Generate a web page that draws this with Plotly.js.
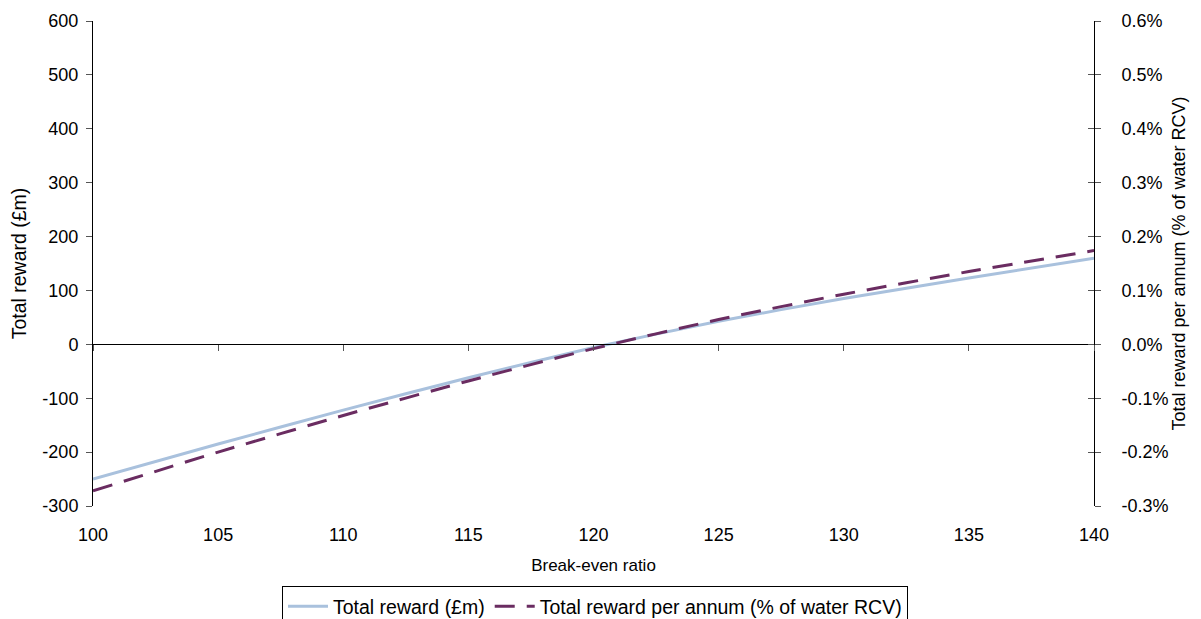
<!DOCTYPE html>
<html>
<head>
<meta charset="utf-8">
<script src="https://cdn.plot.ly/plotly-3.0.1.min.js"></script>
<style>
  html, body { margin: 0; padding: 0; background: #fff; }
  #chart { width: 1201px; height: 619px; }
</style>
</head>
<body>
<div id="chart"></div>
<script>
// Break-even ratio on the x axis
const breakEvenRatio = [100, 105, 110, 115, 120, 125, 130, 135, 140];
// Total reward in £m (left axis)
const totalRewardGBPm = [-250, -185, -122, -62, -6, 43, 85, 123, 160];
// Total reward per annum as % of water RCV (right axis)
const rewardPctRCV = [-0.272, -0.200, -0.132, -0.068, -0.008, 0.046, 0.093, 0.135, 0.174];

const leftTicks = [-300, -200, -100, 0, 100, 200, 300, 400, 500, 600];
const rightTicks = [-0.3, -0.2, -0.1, 0.0, 0.1, 0.2, 0.3, 0.4, 0.5, 0.6];
const xTicks = [100, 105, 110, 115, 120, 125, 130, 135, 140];

// tick labels with a plain hyphen for negatives
const leftTickText = leftTicks.map(v => String(v));
const rightTickText = rightTicks.map(v => v.toFixed(1) + '%');
const xTickText = xTicks.map(v => String(v));

const FONT = 'Liberation Sans, Arial, sans-serif';

const traces = [
  {
    x: breakEvenRatio, y: totalRewardGBPm,
    name: 'Total reward (£m)',
    type: 'scatter', mode: 'lines',
    line: { color: '#a9c1dd', width: 3, shape: 'spline', smoothing: 0.6 },
    xaxis: 'x', yaxis: 'y'
  },
  {
    x: breakEvenRatio, y: rewardPctRCV,
    name: 'Total reward per annum (% of water RCV)',
    type: 'scatter', mode: 'lines',
    line: { color: '#6a2c61', width: 3, dash: '20px,12px', shape: 'spline', smoothing: 0.6 },
    xaxis: 'x', yaxis: 'y2'
  },
  // empty trace so the zero-line axis and inner right ticks get a subplot
  {
    x: [], y: [],
    type: 'scatter', mode: 'lines',
    showlegend: false, hoverinfo: 'skip',
    xaxis: 'x2', yaxis: 'y3'
  }
];

const layout = {
  width: 1201, height: 619,
  margin: { l: 93, r: 107, t: 21, b: 113, pad: 0, autoexpand: false },
  paper_bgcolor: '#fff', plot_bgcolor: '#fff',
  font: { family: FONT, size: 18, color: '#000' },
  showlegend: true,
  legend: {
    orientation: 'h',
    xref: 'container', yref: 'container',
    x: 595 / 1201, xanchor: 'center',
    y: 1 - 586 / 619, yanchor: 'top',
    bordercolor: '#000', borderwidth: 1,
    font: { family: FONT, size: 19.5, color: '#000' },
    itemwidth: 40,
    tracegroupgap: 0
  },
  // bottom axis: labels only
  xaxis: {
    range: [100, 140],
    tickvals: xTicks, ticktext: xTickText,
    ticks: '', showline: false, showgrid: false, zeroline: false,
    ticklabelstandoff: 16,
    tickfont: { family: FONT, size: 18, color: '#000' },
    title: { text: 'Break-even ratio', font: { family: FONT, size: 17, color: '#000' }, standoff: 15 },
    automargin: false
  },
  // axis line drawn through y = 0 with downward ticks
  xaxis2: {
    overlaying: 'x',
    range: [100, 140],
    anchor: 'free', position: 1 / 3,
    tickvals: xTicks,
    ticks: 'outside', ticklen: 6, tickcolor: '#555', tickwidth: 1,
    showticklabels: false,
    showline: true, linecolor: '#000', linewidth: 1,
    showgrid: false, zeroline: false
  },
  yaxis: {
    range: [-300, 600],
    tickvals: leftTicks, ticktext: leftTickText,
    ticks: 'outside', ticklen: 6, tickcolor: '#555', tickwidth: 1,
    showline: true, linecolor: '#000', linewidth: 1,
    showgrid: false, zeroline: false,
    ticklabelstandoff: 4,
    tickfont: { family: FONT, size: 18, color: '#000' },
    title: { text: 'Total reward (£m)', font: { family: FONT, size: 19.5, color: '#000' }, standoff: 10 },
    automargin: false
  },
  yaxis2: {
    overlaying: 'y', side: 'right', anchor: 'x',
    range: [-0.3, 0.6],
    tickvals: rightTicks, ticktext: rightTickText,
    ticks: 'outside', ticklen: 6, tickcolor: '#555', tickwidth: 1,
    showline: true, linecolor: '#000', linewidth: 1,
    showgrid: false, zeroline: false,
    ticklabelstandoff: 17,
    tickfont: { family: FONT, size: 18, color: '#000' },
    title: { text: 'Total reward per annum (% of water RCV)', font: { family: FONT, size: 18, color: '#000' }, standoff: 4 },
    automargin: false
  },
  // inner half of the right-hand cross ticks
  yaxis3: {
    overlaying: 'y', side: 'right', anchor: 'x2',
    range: [-0.3, 0.6],
    tickvals: rightTicks,
    ticks: 'inside', ticklen: 6, tickcolor: '#555', tickwidth: 1,
    showticklabels: false, showline: false, showgrid: false, zeroline: false
  }
};

Plotly.newPlot('chart', traces, layout, { displayModeBar: false, staticPlot: true });
</script>
</body>
</html>
